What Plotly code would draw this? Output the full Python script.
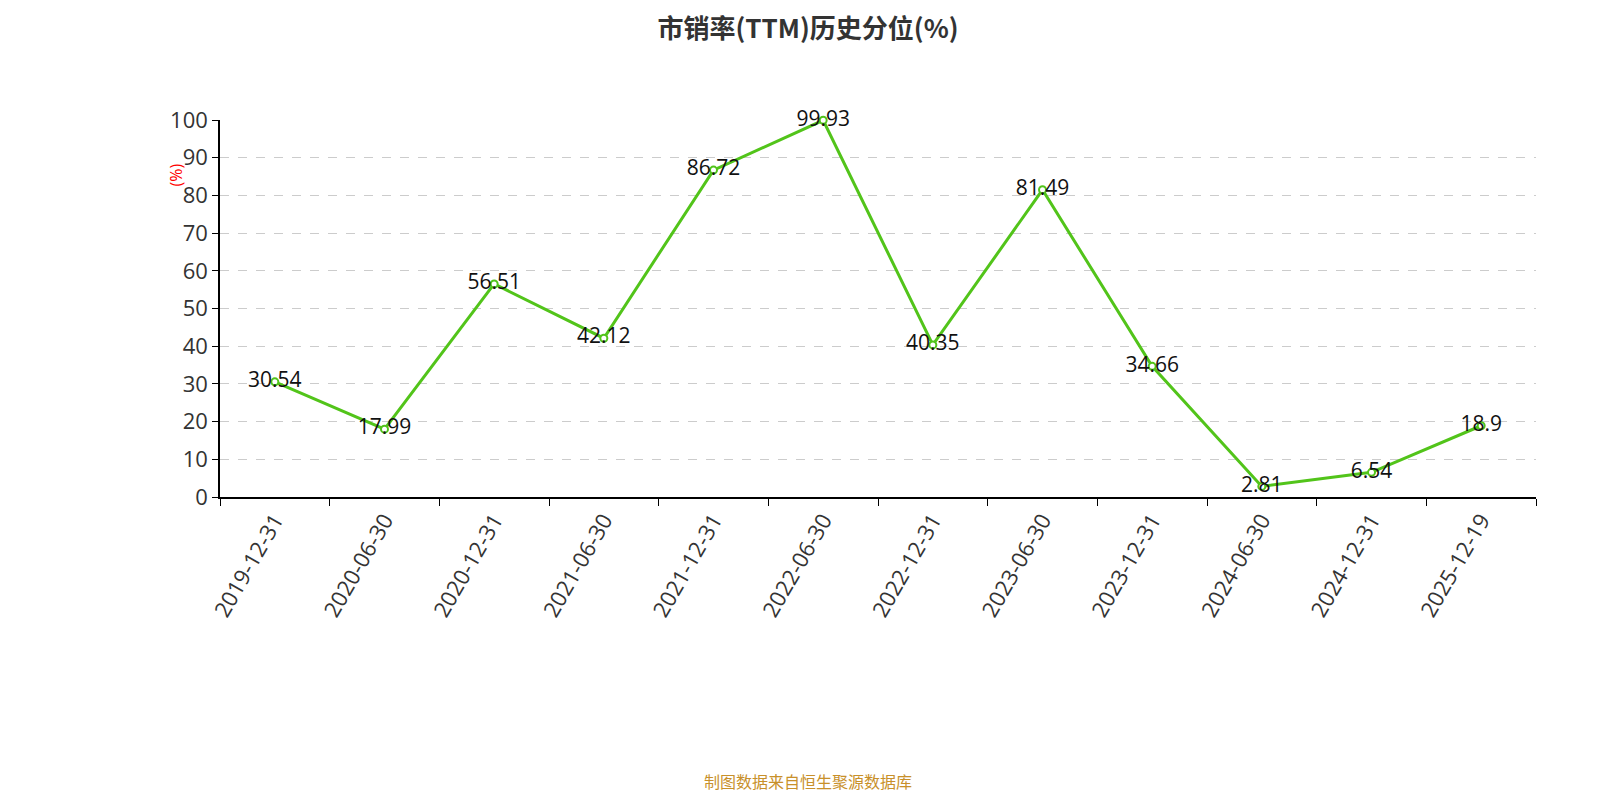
import plotly.graph_objects as go

dates = ["2019-12-31","2020-06-30","2020-12-31","2021-06-30","2021-12-31","2022-06-30",
         "2022-12-31","2023-06-30","2023-12-31","2024-06-30","2024-12-31","2025-12-19"]
values = [30.54,17.99,56.51,42.12,86.72,99.93,40.35,81.49,34.66,2.81,6.54,18.9]
labels = ["30.54","17.99","56.51","42.12","86.72","99.93","40.35","81.49","34.66","2.81","6.54","18.9"]

fig = go.Figure(go.Scatter(
    x=dates, y=values, mode="lines+markers+text", text=labels, textposition="middle center",
    textfont=dict(size=21, color="#111", family="Open Sans"),
    line=dict(color="#52c41a", width=3),
    marker=dict(size=7, color="white", line=dict(color="#52c41a", width=2)),
    cliponaxis=False))

fig.update_layout(
    width=1600, height=800, plot_bgcolor="white", paper_bgcolor="white",
    margin=dict(l=212, r=72, t=112, b=311), showlegend=False,
    title=dict(text="<b>市销率(TTM)历史分位(%)</b>", x=0.5, y=0.985, xanchor="center",
               font=dict(size=26, color="#333", family="Noto Sans CJK SC")),
    font=dict(family="Open Sans", color="#333"))
fig.update_xaxes(type="category", range=[-0.5, 11.5], tickson="boundaries", ticks="outside",
                 ticklen=7, tickcolor="#000", showline=True, linecolor="#000", linewidth=1.5,
                 tickangle=-60, tickfont=dict(size=22, color="#333"), showgrid=False)
fig.update_yaxes(range=[0, 100], dtick=10, ticks="outside", ticklen=6, tickcolor="#000",
                 showline=True, linecolor="#000", linewidth=1.5, zeroline=False,
                 showgrid=True, gridcolor="#ccc", griddash="dash",
                 tickfont=dict(size=22, color="#333"))
fig.add_annotation(text="(%)", xref="paper", yref="paper", x=-0.043, y=0.89, showarrow=False,
                   textangle=-90, font=dict(size=16, color="red"))
fig.add_annotation(text="制图数据来自恒生聚源数据库", xref="paper", yref="paper", x=0.447,
                   y=-0.79, xanchor="center", showarrow=False,
                   font=dict(size=16, color="#c8902a", family="Noto Sans CJK SC"))
fig.write_html("out.html")
